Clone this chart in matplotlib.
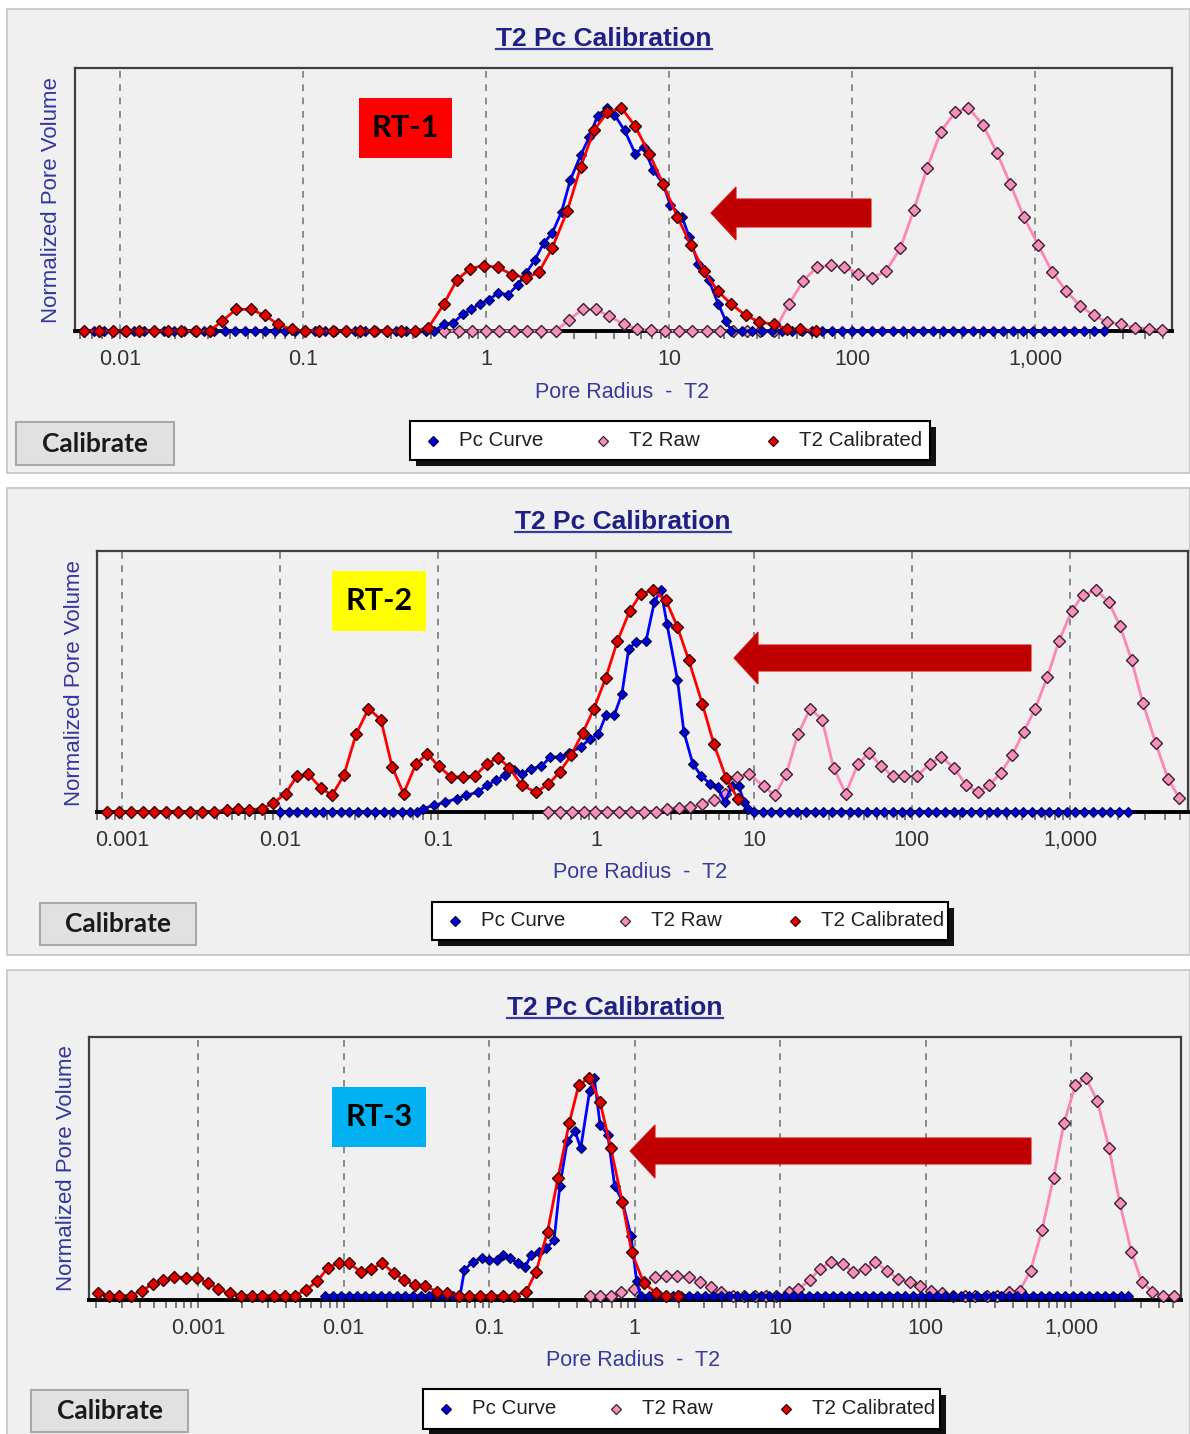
import numpy as np
import matplotlib.pyplot as plt
from matplotlib.patches import Rectangle, Polygon
from matplotlib.lines import Line2D
from matplotlib.ticker import FixedLocator, LogLocator, NullFormatter

# ---- chart values: (log10 pore radius, normalized pore volume) ----
SERIES_NAMES = ['Pc Curve', 'T2 Raw', 'T2 Calibrated']
RT_NAMES = ['RT-1', 'RT-2', 'RT-3']
TITLE = 'T2 Pc Calibration'
XLABEL = 'Pore Radius  -  T2'
YLABEL = 'Normalized Pore Volume'
BUTTON = 'Calibrate'
TICK_VALUES = [0.001, 0.01, 0.1, 1, 10, 100, 1000]
TICK_LABELS = ['0.001', '0.01', '0.1', '1', '10', '100', '1,000']

rt1_pc = [(-2.200, 0), (-2.145, 0), (-2.090, 0), (-2.035, 0), (-1.980, 0), (-1.925, 0), (-1.870, 0), (-1.815, 0),
          (-1.760, 0), (-1.705, 0), (-1.650, 0), (-1.595, 0), (-1.540, 0), (-1.485, 0), (-1.430, 0), (-1.375, 0),
          (-1.320, 0), (-1.265, 0), (-1.210, 0), (-1.155, 0), (-1.100, 0), (-1.045, 0), (-0.990, 0), (-0.935, 0),
          (-0.880, 0), (-0.825, 0), (-0.770, 0), (-0.715, 0), (-0.660, 0), (-0.605, 0), (-0.550, 0), (-0.495, 0),
          (-0.440, 0), (-0.385, 0), (-0.330, 0), (-0.285, 0),
          (-0.233, 0.030), (-0.180, 0.037), (-0.129, 0.074), (-0.081, 0.097), (-0.035, 0.123), (0.017, 0.141),
          (0.064, 0.171), (0.120, 0.163), (0.173, 0.208), (0.218, 0.260), (0.266, 0.319), (0.314, 0.394),
          (0.360, 0.438), (0.412, 0.535), (0.459, 0.676), (0.516, 0.788), (0.563, 0.869), (0.609, 0.966),
          (0.662, 1.000), (0.700, 0.970), (0.756, 0.899), (0.814, 0.795), (0.860, 0.825), (0.912, 0.721),
          (0.965, 0.661), (1.006, 0.565), (1.069, 0.513), (1.110, 0.420), (1.159, 0.300), (1.215, 0.230),
          (1.267, 0.123), (1.309, 0.045), (1.340, 0),
          (1.395, 0), (1.450, 0), (1.505, 0), (1.560, 0), (1.615, 0), (1.670, 0), (1.725, 0), (1.780, 0),
          (1.835, 0), (1.890, 0), (1.945, 0), (2.000, 0), (2.055, 0), (2.110, 0), (2.165, 0), (2.220, 0),
          (2.275, 0), (2.330, 0), (2.385, 0), (2.440, 0), (2.495, 0), (2.550, 0), (2.605, 0), (2.660, 0),
          (2.715, 0), (2.770, 0), (2.825, 0), (2.880, 0), (2.935, 0), (2.990, 0), (3.045, 0), (3.100, 0),
          (3.155, 0), (3.210, 0), (3.265, 0), (3.320, 0), (3.375, 0)]

rt1_raw = [(-0.233, 0), (-0.150, 0), (-0.077, 0), (-0.004, 0), (0.069, 0), (0.152, 0), (0.225, 0), (0.297, 0),
           (0.380, 0), (0.453, 0.050), (0.526, 0.097), (0.599, 0.097), (0.672, 0.067), (0.752, 0.030),
           (0.823, 0.010), (0.902, 0.004), (0.975, 0), (1.052, 0), (1.127, 0), (1.205, 0), (1.278, 0),
           (1.351, 0), (1.424, 0), (1.497, 0), (1.574, 0), (1.653, 0.119), (1.733, 0.226), (1.806, 0.285),
           (1.883, 0.294), (1.956, 0.287), (2.033, 0.257), (2.109, 0.238), (2.182, 0.267), (2.263, 0.371),
           (2.336, 0.542), (2.409, 0.731), (2.484, 0.894), (2.562, 0.981), (2.635, 1.000), (2.714, 0.924),
           (2.791, 0.798), (2.864, 0.657), (2.937, 0.513), (3.015, 0.386), (3.094, 0.263), (3.167, 0.181),
           (3.244, 0.114), (3.319, 0.070), (3.393, 0.040), (3.470, 0.030), (3.543, 0.015), (3.620, 0.010),
           (3.693, 0.004)]

rt1_cal = [(-2.198, 0), (-2.118, 0), (-2.042, 0), (-1.969, 0), (-1.896, 0), (-1.817, 0), (-1.740, 0),
           (-1.667, 0), (-1.588, 0), (-1.511, 0), (-1.443, 0.045), (-1.366, 0.097), (-1.287, 0.097),
           (-1.210, 0.070), (-1.137, 0.030), (-1.064, 0.007), (-0.990, 0), (-0.915, 0), (-0.840, 0),
           (-0.765, 0), (-0.690, 0), (-0.615, 0), (-0.540, 0), (-0.465, 0), (-0.390, 0), (-0.316, 0.015),
           (-0.233, 0.119), (-0.160, 0.230), (-0.087, 0.280), (-0.011, 0.293), (0.064, 0.285), (0.141, 0.253),
           (0.218, 0.238), (0.287, 0.263), (0.360, 0.371), (0.443, 0.539), (0.516, 0.735), (0.588, 0.899),
           (0.662, 0.980), (0.739, 1.000), (0.812, 0.920), (0.891, 0.795), (0.965, 0.661), (1.044, 0.513),
           (1.117, 0.386), (1.190, 0.267), (1.267, 0.178), (1.340, 0.119), (1.418, 0.070), (1.493, 0.040),
           (1.570, 0.030), (1.643, 0.010), (1.716, 0.007), (1.800, 0)]

rt2_pc = [(-2.000, 0), (-1.945, 0), (-1.890, 0), (-1.835, 0), (-1.780, 0), (-1.725, 0), (-1.670, 0), (-1.615, 0),
          (-1.560, 0), (-1.505, 0), (-1.450, 0), (-1.395, 0), (-1.340, 0), (-1.285, 0), (-1.230, 0), (-1.175, 0),
          (-1.135, 0),
          (-1.096, 0.015), (-1.024, 0.030), (-0.952, 0.045), (-0.880, 0.060), (-0.819, 0.075), (-0.747, 0.090),
          (-0.692, 0.120), (-0.631, 0.143), (-0.578, 0.165), (-0.518, 0.188), (-0.465, 0.173), (-0.410, 0.195),
          (-0.345, 0.206), (-0.289, 0.248), (-0.229, 0.248), (-0.169, 0.266), (-0.096, 0.293), (-0.036, 0.331),
          (0.015, 0.350), (0.063, 0.436), (0.116, 0.436), (0.165, 0.534), (0.208, 0.737), (0.257, 0.767),
          (0.317, 0.770), (0.370, 0.947), (0.412, 1.000), (0.450, 0.847), (0.516, 0.597), (0.557, 0.361),
          (0.613, 0.218), (0.668, 0.161), (0.722, 0.128), (0.770, 0.113), (0.814, 0.045), (0.862, 0.116),
          (0.903, 0.116), (0.939, 0.045), (0.964, 0.015), (1.000, 0),
          (1.055, 0), (1.110, 0), (1.165, 0), (1.220, 0), (1.275, 0), (1.330, 0), (1.385, 0), (1.440, 0),
          (1.495, 0), (1.550, 0), (1.605, 0), (1.660, 0), (1.715, 0), (1.770, 0), (1.825, 0), (1.880, 0),
          (1.935, 0), (1.990, 0), (2.045, 0), (2.100, 0), (2.155, 0), (2.210, 0), (2.265, 0), (2.320, 0),
          (2.375, 0), (2.430, 0), (2.485, 0), (2.540, 0), (2.595, 0), (2.650, 0), (2.705, 0), (2.760, 0),
          (2.815, 0), (2.870, 0), (2.925, 0), (2.980, 0), (3.035, 0), (3.090, 0), (3.145, 0), (3.200, 0),
          (3.255, 0), (3.310, 0), (3.365, 0)]

rt2_raw = [(-0.300, 0), (-0.225, 0), (-0.150, 0), (-0.078, 0), (-0.005, 0), (0.073, 0), (0.145, 0), (0.225, 0),
           (0.305, 0), (0.378, 0), (0.450, 0.015), (0.523, 0.020), (0.596, 0.023), (0.673, 0.038), (0.746, 0.053),
           (0.818, 0.083), (0.891, 0.158), (0.969, 0.173), (1.061, 0.116), (1.133, 0.075), (1.206, 0.173),
           (1.278, 0.350), (1.356, 0.466), (1.431, 0.417), (1.504, 0.200), (1.581, 0.083), (1.659, 0.218),
           (1.731, 0.266), (1.806, 0.206), (1.879, 0.161), (1.952, 0.161), (2.029, 0.161), (2.114, 0.218),
           (2.186, 0.248), (2.266, 0.200), (2.344, 0.120), (2.416, 0.090), (2.489, 0.120), (2.562, 0.176),
           (2.634, 0.256), (2.707, 0.361), (2.780, 0.466), (2.857, 0.609), (2.930, 0.770), (3.010, 0.905),
           (3.082, 0.980), (3.167, 1.000), (3.245, 0.947), (3.317, 0.839), (3.390, 0.684), (3.462, 0.492),
           (3.542, 0.311), (3.620, 0.150), (3.692, 0.063)]

rt2_cal = [(-3.096, 0), (-3.019, 0), (-2.940, 0), (-2.867, 0), (-2.795, 0), (-2.723, 0), (-2.643, 0), (-2.571, 0),
           (-2.494, 0), (-2.414, 0), (-2.337, 0.010), (-2.265, 0.012), (-2.193, 0.010), (-2.113, 0.015),
           (-2.041, 0.040), (-1.964, 0.083), (-1.892, 0.162), (-1.819, 0.170), (-1.742, 0.110), (-1.670, 0.075),
           (-1.595, 0.165), (-1.518, 0.350), (-1.439, 0.466), (-1.361, 0.417), (-1.289, 0.203), (-1.217, 0.083),
           (-1.140, 0.215), (-1.067, 0.263), (-0.995, 0.206), (-0.916, 0.158), (-0.843, 0.158), (-0.766, 0.162),
           (-0.692, 0.215), (-0.619, 0.245), (-0.547, 0.200), (-0.470, 0.120), (-0.378, 0.090), (-0.301, 0.125),
           (-0.229, 0.180), (-0.157, 0.256), (-0.084, 0.356), (-0.012, 0.466), (0.063, 0.606), (0.136, 0.770),
           (0.213, 0.905), (0.286, 0.985), (0.363, 1.000), (0.443, 0.955), (0.516, 0.835), (0.588, 0.684),
           (0.673, 0.489), (0.746, 0.308), (0.823, 0.155), (0.898, 0.060)]

rt3_pc = [(-2.130, 0), (-2.075, 0), (-2.020, 0), (-1.965, 0), (-1.910, 0), (-1.855, 0), (-1.800, 0), (-1.745, 0),
          (-1.690, 0), (-1.635, 0), (-1.580, 0), (-1.525, 0), (-1.470, 0), (-1.415, 0), (-1.360, 0), (-1.305, 0),
          (-1.250, 0), (-1.200, 0),
          (-1.170, 0.118), (-1.113, 0.156), (-1.052, 0.172), (-1.000, 0.164), (-0.948, 0.164), (-0.908, 0.187),
          (-0.856, 0.172), (-0.803, 0.149), (-0.751, 0.133), (-0.712, 0.187), (-0.659, 0.202), (-0.607, 0.218),
          (-0.554, 0.256), (-0.515, 0.502), (-0.463, 0.709), (-0.410, 0.755), (-0.371, 0.678), (-0.310, 0.940),
          (-0.278, 1.000), (-0.238, 0.786), (-0.185, 0.740), (-0.138, 0.504), (-0.085, 0.435), (-0.026, 0.275),
          (0.013, 0.069), (0.040, 0),
          (0.095, 0), (0.150, 0), (0.205, 0), (0.260, 0), (0.315, 0), (0.370, 0), (0.425, 0), (0.480, 0),
          (0.535, 0), (0.590, 0), (0.645, 0), (0.700, 0), (0.755, 0), (0.810, 0), (0.865, 0), (0.920, 0),
          (0.975, 0), (1.030, 0), (1.085, 0), (1.140, 0), (1.195, 0), (1.250, 0), (1.305, 0), (1.360, 0),
          (1.415, 0), (1.470, 0), (1.525, 0), (1.580, 0), (1.635, 0), (1.690, 0), (1.745, 0), (1.800, 0),
          (1.855, 0), (1.910, 0), (1.965, 0), (2.020, 0), (2.075, 0), (2.130, 0), (2.185, 0), (2.240, 0),
          (2.295, 0), (2.350, 0), (2.405, 0), (2.460, 0), (2.515, 0), (2.570, 0), (2.625, 0), (2.680, 0),
          (2.735, 0), (2.790, 0), (2.845, 0), (2.900, 0), (2.955, 0), (3.010, 0), (3.065, 0), (3.120, 0),
          (3.175, 0), (3.230, 0), (3.285, 0), (3.340, 0), (3.390, 0)]

rt3_raw = [(-0.304, 0), (-0.238, 0), (-0.164, 0), (-0.093, 0.015), (-0.005, 0.030), (0.066, 0.064), (0.138, 0.084),
           (0.212, 0.092), (0.291, 0.092), (0.370, 0.084), (0.450, 0.064), (0.524, 0.038), (0.595, 0.015),
           (0.675, 0), (0.749, 0), (0.825, 0), (0.900, 0), (0.974, 0), (1.058, 0.015), (1.124, 0.030),
           (1.204, 0.072), (1.270, 0.122), (1.349, 0.153), (1.429, 0.145), (1.503, 0.110), (1.582, 0.122),
           (1.653, 0.153), (1.733, 0.115), (1.812, 0.076), (1.892, 0.061), (1.963, 0.046), (2.037, 0.023),
           (2.111, 0.011), (2.190, 0), (2.270, 0), (2.341, 0), (2.421, 0), (2.492, 0), (2.571, 0.015),
           (2.646, 0.023), (2.720, 0.115), (2.799, 0.302), (2.878, 0.542), (2.950, 0.794), (3.029, 0.969),
           (3.101, 1.000), (3.180, 0.893), (3.259, 0.679), (3.333, 0.427), (3.413, 0.202), (3.484, 0.064),
           (3.558, 0.018), (3.630, 0), (3.709, 0)]

rt3_cal = [(-3.687, 0.010), (-3.613, 0), (-3.543, 0), (-3.464, 0), (-3.385, 0.023), (-3.312, 0.054),
           (-3.241, 0.072), (-3.163, 0.087), (-3.084, 0.083), (-3.010, 0.080), (-2.932, 0.060), (-2.861, 0.029),
           (-2.782, 0.010), (-2.704, 0), (-2.633, 0), (-2.560, 0), (-2.480, 0), (-2.402, 0), (-2.337, 0),
           (-2.258, 0.026), (-2.180, 0.069), (-2.109, 0.126), (-2.035, 0.152), (-1.962, 0.149), (-1.883, 0.110),
           (-1.813, 0.121), (-1.734, 0.149), (-1.655, 0.103), (-1.585, 0.072), (-1.511, 0.049), (-1.438, 0.044),
           (-1.359, 0.018), (-1.288, 0.010), (-1.210, 0), (-1.139, 0), (-1.066, 0), (-0.987, 0), (-0.908, 0),
           (-0.830, 0), (-0.746, 0.018), (-0.678, 0.110), (-0.599, 0.294), (-0.528, 0.540), (-0.450, 0.793),
           (-0.384, 0.970), (-0.311, 1.000), (-0.238, 0.890), (-0.164, 0.678), (-0.085, 0.430), (-0.021, 0.200),
           (0.061, 0.060), (0.146, 0.012), (0.212, 0), (0.296, 0)]

DATA = [(rt1_pc, rt1_raw, rt1_cal), (rt2_pc, rt2_raw, rt2_cal), (rt3_pc, rt3_raw, rt3_cal)]

# ---- layout, in pixels of the 1190x1434 picture ----
W, H = 1190, 1434
LAYOUT = [
    dict(bg=(7, 9, 1190, 473), ax=(75, 68, 1172, 331), xlim=(-2.247, 3.747), ylim=(0, 1.179),
         title=(604, 45.5), xlabel=(622, 392), ylabel=(52, 200), button=(16, 422, 174, 465),
         legend=(410, 421, 930, 460), rt=(359, 98, 452, 158), rt_color='#ff0000',
         arrow=(711, 213, 736, 187, 240, 199, 227, 871)),
    dict(bg=(7, 488, 1190, 955), ax=(97, 551, 1188, 812), xlim=(-3.157, 3.747), ylim=(0, 1.177),
         title=(623, 529), xlabel=(640, 873), ylabel=(74, 683), button=(40, 903, 196, 945),
         legend=(432, 902, 948, 940), rt=(332, 571, 426, 631), rt_color='#ffff00',
         arrow=(734, 658, 758, 632, 684, 645, 671, 1031)),
    dict(bg=(7, 970, 1190, 1440), ax=(89, 1037, 1181, 1300), xlim=(-3.75, 3.754), ylim=(-0.02, 1.189),
         title=(615, 1015), xlabel=(633, 1360), ylabel=(66, 1168), button=(31, 1390, 188, 1432),
         legend=(423, 1389, 940, 1429), rt=(332, 1087, 426, 1147), rt_color='#00b0f0',
         arrow=(630, 1151, 655, 1125, 1178, 1138, 1164, 1031)),
]

SANS = ['Liberation Sans', 'DejaVu Sans']
BOLD_UI = ['Lato', 'DejaVu Sans']
STYLES = [
    dict(color='#0000ff', lw=2.0, marker='D', ms=5.0, mfc='#0000d0', mec='#000050', mew=0.8, zorder=4),
    dict(color='#ff85b5', lw=2.0, marker='D', ms=5.8, mfc='#f590bb', mec='#3a2030', mew=1.0, zorder=3),
    dict(color='#ff0000', lw=2.0, marker='D', ms=5.8, mfc='#e00000', mec='#3a0000', mew=1.0, zorder=5),
]
DRAW_ORDER = [1, 0, 2]


def fx(px):
    return px / W


def fy(py):
    return 1.0 - py / H


def add_rect(x0, y0, x1, y1, **kw):
    fig.add_artist(Rectangle((fx(x0), fy(y1)), (x1 - x0) / W, (y1 - y0) / H,
                             transform=fig.transFigure, **kw))


fig = plt.figure(figsize=(W / 100, H / 100), dpi=100)
fig.patch.set_facecolor('white')

titles = []
for i, lay in enumerate(LAYOUT):
    # panel background
    add_rect(*lay['bg'], facecolor='#f0f0f0', edgecolor='#c4c4c4', lw=1.2, zorder=-5)

    l, t, r, b = lay['ax']
    ax = fig.add_axes([fx(l), fy(b), (r - l) / W, (b - t) / H])
    ax.set_facecolor('#f0f0f0')
    for k in DRAW_ORDER:
        pts = np.array(DATA[i][k], dtype=float)
        ax.plot(10 ** pts[:, 0], pts[:, 1], clip_on=False, **STYLES[k])

    lo, hi = 10 ** lay['xlim'][0], 10 ** lay['xlim'][1]
    ax.set_xscale('log')
    ax.set_xlim(lo, hi)
    ax.set_ylim(*lay['ylim'])
    shown = [(v, s) for v, s in zip(TICK_VALUES, TICK_LABELS) if lo <= v <= hi]
    ax.xaxis.set_major_locator(FixedLocator([v for v, s in shown]))
    ax.set_xticklabels([s for v, s in shown])
    ax.xaxis.set_minor_locator(LogLocator(base=10, subs=np.arange(2, 10) * 1.0, numticks=30))
    ax.xaxis.set_minor_formatter(NullFormatter())
    ax.tick_params(axis='x', which='both', direction='out', length=6, width=1.3,
                   color='#707070', labelsize=15.5, labelcolor='#333333', pad=7)
    for lab in ax.get_xticklabels():
        lab.set_family(SANS)
    ax.set_yticks([])
    ax.set_axisbelow(True)
    ax.grid(True, axis='x', which='major', color='#7a7a7a', ls=(0, (4, 4)), lw=1.2)
    for side in ['top', 'left', 'right']:
        ax.spines[side].set_color('#404040')
        ax.spines[side].set_linewidth(1.6)
    ax.spines['bottom'].set_color('black')
    ax.spines['bottom'].set_linewidth(2.8)

    # title, axis labels
    tt = fig.text(fx(lay['title'][0]), fy(lay['title'][1]), TITLE, ha='center', va='baseline',
                  fontsize=19, fontweight='bold', color='#1f1f85', family=SANS)
    titles.append(tt)
    fig.text(fx(lay['xlabel'][0]), fy(lay['xlabel'][1]), XLABEL, ha='center', va='center',
             fontsize=15.5, color='#3a3a9c', family=SANS)
    fig.text(fx(lay['ylabel'][0]), fy(lay['ylabel'][1]), YLABEL, ha='center', va='center',
             rotation=90, fontsize=16, color='#3535a0', family=SANS)

    # calibrate button
    bx0, by0, bx1, by1 = lay['button']
    add_rect(bx0, by0, bx1, by1, facecolor='#e1e1e1', edgecolor='#a8a8a8', lw=1.5, zorder=4)
    fig.text(fx((bx0 + bx1) / 2), fy((by0 + by1) / 2), BUTTON, ha='center', va='center',
             fontsize=19, fontweight='bold', color='#1a1a1a', family=BOLD_UI, zorder=5)

    # legend with drop shadow
    lx0, ly0, lx1, ly1 = lay['legend']
    add_rect(lx0 + 6, ly0 + 6, lx1 + 6, ly1 + 6, facecolor='#111111', edgecolor='none', zorder=4)
    add_rect(lx0, ly0, lx1, ly1, facecolor='white', edgecolor='black', lw=1.5, zorder=5)
    ymid = (ly0 + ly1) / 2
    for k, name in enumerate(SERIES_NAMES):
        st = STYLES[k]
        fig.add_artist(Line2D([fx(lx0 + 23 + 170 * k)], [fy(ymid)], transform=fig.transFigure,
                              marker='D', ms=5.5, mfc=st['mfc'], mec=st['mec'], mew=0.9,
                              ls='none', zorder=6))
        fig.text(fx(lx0 + 49 + 170 * k), fy(ymid), name, ha='left', va='center',
                 fontsize=14.8, color='#202020', family=SANS, zorder=6)

    # RT tag
    rx0, ry0, rx1, ry1 = lay['rt']
    add_rect(rx0, ry0, rx1, ry1, facecolor=lay['rt_color'], edgecolor='none', zorder=6)
    fig.text(fx((rx0 + rx1) / 2), fy((ry0 + ry1) / 2), RT_NAMES[i], ha='center', va='center',
             fontsize=22, fontweight='bold', color='black', family=BOLD_UI, zorder=7)

    # block arrow
    tx, ty, hx, ht, hb, st_, sb, tailx = lay['arrow']
    poly = [(tailx, st_), (hx, st_), (hx, ht), (tx, ty), (hx, hb), (hx, sb), (tailx, sb)]
    fig.add_artist(Polygon([(fx(p), fy(q)) for p, q in poly], closed=True, transform=fig.transFigure,
                           facecolor='#c00000', edgecolor='#d01010', lw=0.8, zorder=6))

# underline the titles
fig.canvas.draw()
for tt in titles:
    bb = tt.get_window_extent()
    x0, y0 = tt.get_position()
    yline = y0 - 3.0 / H
    fig.add_artist(Line2D([bb.x0 / W, bb.x1 / W], [yline, yline], transform=fig.transFigure,
                          color='#3a3a9a', lw=1.6, zorder=6))

fig.savefig('out.png', dpi=100, facecolor='white')
